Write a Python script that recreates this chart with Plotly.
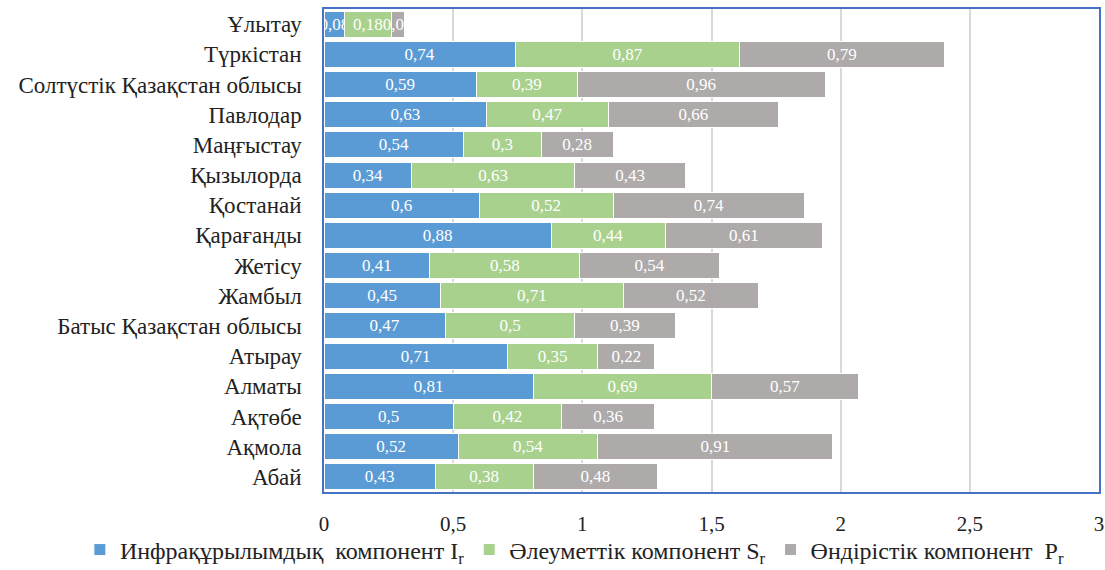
import plotly.graph_objects as go

regions = [
    "Абай", "Ақмола", "Ақтөбе", "Алматы", "Атырау", "Батыс Қазақстан облысы",
    "Жамбыл", "Жетісу", "Қарағанды", "Қостанай", "Қызылорда", "Маңғыстау",
    "Павлодар", "Солтүстік Қазақстан облысы", "Түркістан", "Ұлытау",
]
infra = [0.43, 0.52, 0.5, 0.81, 0.71, 0.47, 0.45, 0.41, 0.88, 0.6, 0.34, 0.54, 0.63, 0.59, 0.74, 0.08]
social = [0.38, 0.54, 0.42, 0.69, 0.35, 0.5, 0.71, 0.58, 0.44, 0.52, 0.63, 0.3, 0.47, 0.39, 0.87, 0.18]
industry = [0.48, 0.91, 0.36, 0.57, 0.22, 0.39, 0.52, 0.54, 0.61, 0.74, 0.43, 0.28, 0.66, 0.96, 0.79, 0.05]

x_ticks = [0, 0.5, 1, 1.5, 2, 2.5, 3]

series = [
    ("Инфрақұрылымдық  компонент I<sub>r</sub>", infra, "#5B9BD5"),
    ("Әлеуметтік компонент S<sub>r</sub>", social, "#A9D18E"),
    ("Өндірістік компонент  P<sub>r</sub>", industry, "#AEAAAA"),
]

SERIF = "Liberation Serif"
SANS = "Liberation Sans Narrow"


def fmt(v):
    return f"{v:g}".replace(".", ",")


fig = go.Figure()
for name, vals, color in series:
    fig.add_trace(go.Bar(
        y=regions,
        x=vals,
        name=name,
        orientation="h",
        marker=dict(color=color, line=dict(color="white", width=1)),
        text=[fmt(v) for v in vals],
        textposition="inside",
        insidetextanchor="middle",
        textangle=0,
        constraintext="none",
        textfont=dict(family=SERIF, size=17, color="white"),
        hoverinfo="skip",
    ))

fig.update_layout(
    width=1105,
    height=570,
    barmode="stack",
    bargap=0.14,
    separators=", ",
    paper_bgcolor="white",
    plot_bgcolor="white",
    font=dict(family=SERIF),
    margin=dict(l=324, r=6, t=9, b=78, autoexpand=False),
    uniformtext=dict(minsize=17, mode="show"),
    legend=dict(
        orientation="h",
        x=-0.315, xanchor="left",
        y=-0.12, yanchor="middle",
        bgcolor="rgba(0,0,0,0)",
        font=dict(family=SERIF, size=24, color="#222222"),
        itemwidth=30,
        traceorder="normal",
    ),
    showlegend=True,
)

fig.update_xaxes(
    range=[0, 3],
    tickvals=x_ticks,
    tickfont=dict(family=SANS, size=21, color="#222222"),
    showgrid=True,
    gridcolor="#D9D9D9",
    gridwidth=1.5,
    showline=True,
    mirror=True,
    linecolor="#4472C4",
    linewidth=1.5,
    zeroline=False,
    ticklabelstandoff=12,
    fixedrange=True,
)
fig.update_yaxes(
    categoryorder="array",
    categoryarray=regions,
    tickfont=dict(family=SERIF, size=23, color="#222222"),
    showline=True,
    mirror=True,
    linecolor="#4472C4",
    linewidth=1.5,
    ticklabelstandoff=16,
    fixedrange=True,
)

fig.write_html("out.html")
